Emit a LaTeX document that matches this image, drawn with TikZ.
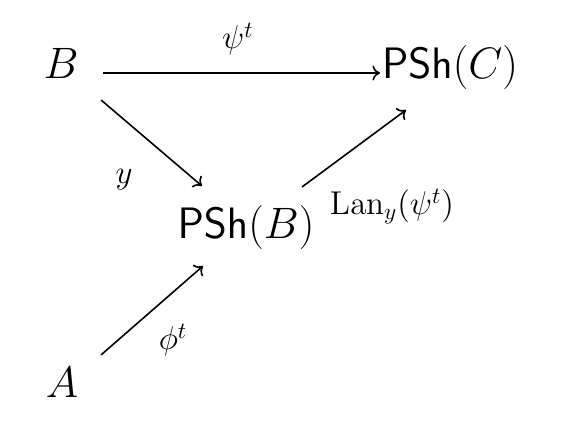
\documentclass[tikz,border=0pt]{standalone}
\usepackage{fix-cm}
\usetikzlibrary{arrows.meta}
\tikzset{
  obj/.style={inner sep=0pt, text height=0.8em, text depth=0.3em, font=\fontsize{22}{26}\selectfont},
  lbl/.style={inner sep=0pt, anchor=base, font=\fontsize{16.5}{20}\selectfont},
  mor/.style={line width=0.8pt, -{Computer Modern Rightarrow[length=3.8pt,width=7.5pt]}}
}
\begin{document}
\begin{tikzpicture}[x=0.5pt,y=-0.5pt]
\useasboundingbox (0,0) rectangle (561,431);
\node[obj] (B) at (61,74) {$B$};
\node[obj] (PC) at (450,74) {$\mathsf{PSh}(C)$};
\node[obj] (PB) at (246,234) {$\mathsf{PSh}(B)$};
\node[obj] (A) at (62,393) {$A$};
\draw[mor, shorten <=21pt, shorten >=35pt] ([yshift=0.5pt]B.center) -- ([yshift=0.5pt]PC.center);
\draw[mor, shorten <=26.3pt, shorten >=28.9pt] ([yshift=4.05pt]B.center) -- ([yshift=5.25pt]PB.center);
\draw[mor, shorten <=34.85pt, shorten >=27.4pt] ([yshift=2.75pt]PB.center) -- ([yshift=-1.7pt]PC.center);
\draw[mor, shorten <=25.9pt, shorten >=28.5pt] ([yshift=2pt]A.center) -- ([yshift=2.75pt]PB.center);
\node[lbl] (lpsi) at (238,49) {$\psi^t$};
\node[lbl] (ly) at (124,184) {$y$};
\node[lbl] (llan) at (392,215) {$\mathrm{Lan}_y(\psi^t)$};
\node[lbl] (lphi) at (173,350) {$\phi^t$};
\end{tikzpicture}
\end{document}
